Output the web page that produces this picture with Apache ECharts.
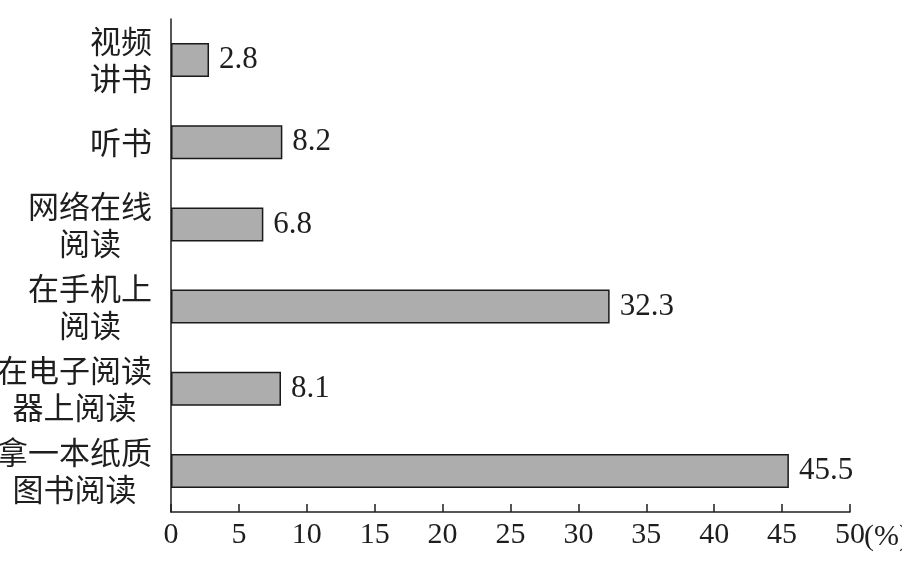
<!DOCTYPE html>
<html>
<head>
<meta charset="utf-8">
<script src="https://cdn.jsdelivr.net/npm/echarts@6/dist/echarts.min.js"></script>
<style>
html,body{margin:0;padding:0;background:#fff;}
#main{width:902px;height:563px;}
</style>
</head>
<body>
<div id="main"></div>
<script>
// Categories listed bottom to top
const categories = ['拿一本纸质\n图书阅读', '在电子阅读\n器上阅读', '在手机上\n阅读', '网络在线\n阅读', '听书', '视频\n讲书'];
const values = [45.5, 8.1, 32.3, 6.8, 8.2, 2.8];
const xMin = 0, xMax = 50, xStep = 5;
const unitLabel = '(%)';

const serif = '"Liberation Serif", "Times New Roman", "Noto Sans CJK SC", serif';
const cjk = '"Noto Sans CJK SC", "Liberation Serif", serif';
const ink = '#1e1e1e';

const chart = echarts.init(document.getElementById('main'), null, {renderer: 'canvas'});
chart.setOption({
  backgroundColor: '#ffffff',
  animation: false,
  grid: {left: 171, right: 52, top: 19, bottom: 51, containLabel: false, outerBoundsMode: 'none'},
  xAxis: {
    type: 'value',
    min: xMin, max: xMax, interval: xStep,
    axisLine: {show: true, lineStyle: {color: ink, width: 1.5}},
    axisTick: {show: true, inside: true, length: 8, lineStyle: {color: ink, width: 1.5}},
    splitLine: {show: false},
    axisLabel: {color: ink, fontSize: 30, fontFamily: serif, margin: 8}
  },
  yAxis: {
    type: 'category',
    data: categories,
    axisLine: {show: true, lineStyle: {color: ink, width: 1.5}},
    axisTick: {show: false},
    axisLabel: {
      margin: 19,
      formatter: v => v.split('\n').map(l => '{c|' + l + '}').join('\n'),
      rich: {c: {fontSize: 31, lineHeight: 37, align: 'center', fontFamily: cjk, color: ink}}
    }
  },
  graphic: [{
    type: 'text',
    x: 864, y: 537,
    style: {text: unitLabel, font: '30px ' + serif, fill: ink, verticalAlign: 'middle', align: 'left'}
  }],
  series: [{
    type: 'bar',
    data: values,
    barWidth: 34,
    itemStyle: {color: '#adadad', borderColor: '#1a1a1a', borderWidth: 1.5},
    label: {show: true, position: 'right', distance: 10, fontSize: 31, fontFamily: serif, color: ink}
  }]
});
</script>
</body>
</html>
